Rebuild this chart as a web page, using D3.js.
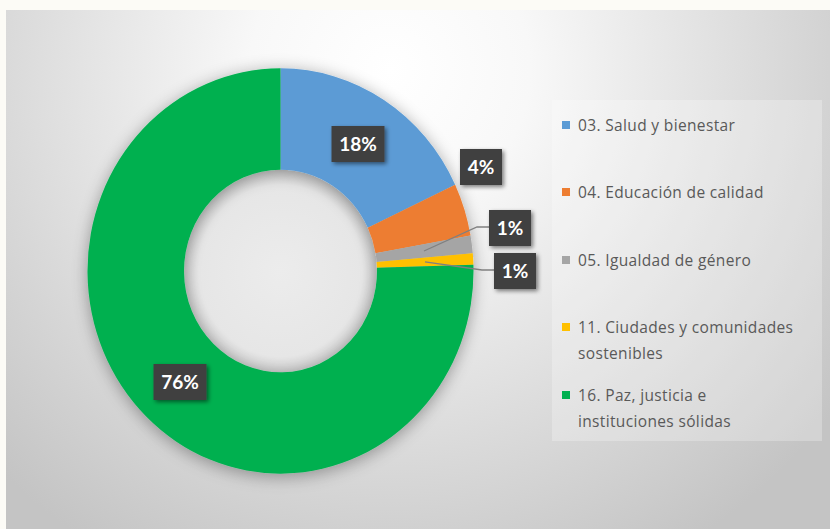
<!DOCTYPE html>
<html>
<head>
<meta charset="utf-8">
<script src="https://cdn.jsdelivr.net/npm/d3@7"></script>
<style>
  body { margin: 0; background: #fcfbf6; }
  svg { display: block; }
</style>
</head>
<body>
<svg id="chart" width="830" height="529"></svg>
<script>
const categories = [
  "03. Salud y bienestar",
  "04. Educación de calidad",
  "05. Igualdad de género",
  "11. Ciudades y comunidades sostenibles",
  "16. Paz, justicia e instituciones sólidas"
];
const values = [18.0, 4.2, 1.4, 0.9, 75.5];
const colors = ["#5b9bd5", "#ed7d31", "#a5a5a5", "#ffc000", "#00b050"];
const legendLines = [
  ["03. Salud y bienestar"],
  ["04. Educación de calidad"],
  ["05. Igualdad de género"],
  ["11. Ciudades y comunidades", "sostenibles"],
  ["16. Paz, justicia e", "instituciones sólidas"]
];

const width = 830, height = 529;
// the original picture is slightly stretched vertically
const cx = 280.5, cy = 271, outerR = 193, innerR = 96.5, sy = 1.05;

const svg = d3.select("#chart");
const defs = svg.append("defs");

const bg = defs.append("radialGradient")
  .attr("id", "bg")
  .attr("gradientUnits", "userSpaceOnUse")
  .attr("cx", 390).attr("cy", 70).attr("r", 560);
bg.append("stop").attr("offset", "0%").attr("stop-color", "#ffffff");
bg.append("stop").attr("offset", "25%").attr("stop-color", "#f8f8f8");
bg.append("stop").attr("offset", "100%").attr("stop-color", "#c4c4c4");

const hole = defs.append("radialGradient").attr("id", "hole");
hole.append("stop").attr("offset", "0%").attr("stop-color", "#ececec");
hole.append("stop").attr("offset", "85%").attr("stop-color", "#e6e6e6");
hole.append("stop").attr("offset", "100%").attr("stop-color", "#d2d2d2");

const shadow = defs.append("filter").attr("id", "shadow")
  .attr("x", "-20%").attr("y", "-20%").attr("width", "140%").attr("height", "140%");
shadow.append("feGaussianBlur").attr("in", "SourceAlpha").attr("stdDeviation", 8);
shadow.append("feOffset").attr("dx", 0).attr("dy", 3).attr("result", "b");
shadow.append("feComponentTransfer").append("feFuncA").attr("type", "linear").attr("slope", 0.35);
const m = shadow.append("feMerge");
m.append("feMergeNode");
m.append("feMergeNode").attr("in", "SourceGraphic");

const boxShadow = defs.append("filter").attr("id", "boxshadow")
  .attr("x", "-30%").attr("y", "-30%").attr("width", "160%").attr("height", "160%");
boxShadow.append("feGaussianBlur").attr("in", "SourceAlpha").attr("stdDeviation", 2);
boxShadow.append("feOffset").attr("dx", 2).attr("dy", 2);
boxShadow.append("feComponentTransfer").append("feFuncA").attr("type", "linear").attr("slope", 0.5);
const m2 = boxShadow.append("feMerge");
m2.append("feMergeNode");
m2.append("feMergeNode").attr("in", "SourceGraphic");

svg.append("rect")
  .attr("x", 6).attr("y", 10)
  .attr("width", width - 6).attr("height", height - 10)
  .attr("fill", "url(#bg)");

// legend backdrop
svg.append("rect")
  .attr("x", 552).attr("y", 100)
  .attr("width", 270).attr("height", 341)
  .attr("fill", "#ffffff").attr("fill-opacity", 0.25);

const total = d3.sum(values);
const pie = d3.pie().sort(null).value(d => d);
const arcs = pie(values);
const arc = d3.arc().innerRadius(innerR).outerRadius(outerR);
const midArc = d3.arc().innerRadius((innerR + outerR) / 2).outerRadius((innerR + outerR) / 2);
const fmt = d3.format(".0%");

const g = svg.append("g").attr("transform", `translate(${cx},${cy}) scale(1,${sy})`);
g.append("circle").attr("r", innerR).attr("fill", "url(#hole)");
g.append("g")
  .attr("filter", "url(#shadow)")
  .selectAll("path")
  .data(arcs)
  .enter()
  .append("path")
  .attr("d", arc)
  .attr("fill", (d, i) => colors[i]);

// data label boxes (dragged away from default spots in the original)
const labelPos = [
  { x: 358, y: 144 },
  { x: 481, y: 167 },
  { x: 510, y: 228 },
  { x: 515, y: 271 },
  { x: 180, y: 382 }
];
const leaders = [false, false, true, true, false];

const lab = svg.append("g");
arcs.forEach((d, i) => {
  const p = labelPos[i];
  const txt = fmt(d.data / total);
  const w = txt.length > 2 ? 53 : 42;
  if (leaders[i]) {
    const c = midArc.centroid(d);
    const sx0 = cx + c[0], sy0 = cy + c[1] * sy;
    const bx = p.x - w / 2;
    lab.append("polyline")
      .attr("points", [[sx0, sy0], [bx - 12, p.y - 1], [bx, p.y - 1]].map(q => q.join(",")).join(" "))
      .attr("fill", "none")
      .attr("stroke", "#808080")
      .attr("stroke-width", 1.3);
  }
  const lg = lab.append("g").attr("transform", `translate(${p.x},${p.y})`);
  lg.append("rect")
    .attr("x", -w / 2).attr("y", -18)
    .attr("width", w).attr("height", 36)
    .attr("fill", "#404040")
    .attr("filter", "url(#boxshadow)");
  lg.append("text")
    .attr("text-anchor", "middle")
    .attr("dy", "0.36em")
    .attr("fill", "#ffffff")
    .attr("font-family", "Lato, 'Open Sans', sans-serif")
    .attr("font-weight", "bold")
    .attr("font-size", 19)
    .text(txt);
});

// legend
const legendY = [125, 192, 260, 327, 395];
const legend = svg.append("g")
  .attr("font-family", "'Open Sans', sans-serif")
  .attr("font-size", 15.5)
  .attr("letter-spacing", 0.35)
  .attr("fill", "#595959");
categories.forEach((c, i) => {
  const y = legendY[i];
  legend.append("rect")
    .attr("x", 562).attr("y", y - 4)
    .attr("width", 8).attr("height", 8)
    .attr("fill", colors[i]);
  const t = legend.append("text").attr("x", 578).attr("y", y);
  legendLines[i].forEach((line, j) => {
    t.append("tspan").attr("x", 578).attr("dy", j === 0 ? "0.36em" : 26).text(line);
  });
});
</script>
</body>
</html>
